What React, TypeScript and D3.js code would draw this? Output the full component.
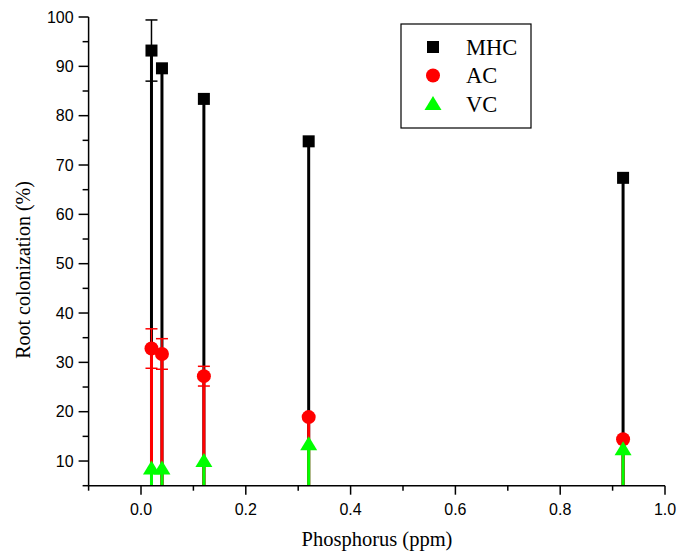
import React, { useRef, useEffect } from 'react';
import * as d3 from 'd3';

// Phosphorus levels (ppm)
const phosphorus = [0.02, 0.04, 0.12, 0.32, 0.92];
// Root colonization (%)
const mhc = [93.2, 89.6, 83.4, 74.8, 67.4];
const mhcErr = [6.2, 0.3, 0.3, 0.3, 0.3];
const ac = [32.8, 31.7, 27.2, 18.9, 14.4];
const acErr = [4.0, 3.1, 2.0, 0, 0];
const vc = [8.5, 8.5, 10.0, 13.4, 12.4];
const xTicks = [0, 0.2, 0.4, 0.6, 0.8, 1.0];
const yTicks = [10, 20, 30, 40, 50, 60, 70, 80, 90, 100];
const seriesNames = ['MHC', 'AC', 'VC'];
const seriesColors = ['#000000', '#ff0000', '#00ff00'];

const App = () => {
  const svgRef = useRef(null);

  useEffect(() => {
    const svg = d3.select(svgRef.current);
    svg.selectAll('*').remove();

    const width = 677;
    const height = 554;
    const x = d3.scaleLinear().domain([-0.1, 1.0]).range([88.6, 665]);
    const y = d3.scaleLinear().domain([5, 100]).range([485.7, 17]);

    svg.attr('width', width).attr('height', height);

    const g = svg.append('g');
    const yBase = y(5);

    // drop lines + error bars, one series after another
    const series = [
      { vals: mhc, err: mhcErr, color: seriesColors[0], shape: 'square' },
      { vals: ac, err: acErr, color: seriesColors[1], shape: 'circle' },
      { vals: vc, err: null, color: seriesColors[2], shape: 'triangle' },
    ];

    series.forEach(s => {
      phosphorus.forEach((p, i) => {
        g.append('line')
          .attr('x1', x(p)).attr('x2', x(p))
          .attr('y1', yBase).attr('y2', y(s.vals[i]))
          .attr('stroke', s.color)
          .attr('stroke-width', 3);
        if (s.err && s.err[i] > 0.5) {
          const top = y(s.vals[i] + s.err[i]);
          const bot = y(s.vals[i] - s.err[i]);
          g.append('line')
            .attr('x1', x(p)).attr('x2', x(p))
            .attr('y1', top).attr('y2', bot)
            .attr('stroke', s.color).attr('stroke-width', 1.5);
          [top, bot].forEach(cy => {
            g.append('line')
              .attr('x1', x(p) - 6).attr('x2', x(p) + 6)
              .attr('y1', cy).attr('y2', cy)
              .attr('stroke', s.color).attr('stroke-width', 1.5);
          });
        }
      });
    });

    const drawMarker = (sel, shape, color, cx, cy) => {
      if (shape === 'square') {
        sel.append('rect')
          .attr('x', cx - 6).attr('y', cy - 6)
          .attr('width', 12).attr('height', 12)
          .attr('fill', color);
      } else if (shape === 'circle') {
        sel.append('circle')
          .attr('cx', cx).attr('cy', cy).attr('r', 7)
          .attr('fill', color);
      } else {
        sel.append('path')
          .attr('d', `M${cx},${cy - 8}L${cx + 8.5},${cy + 6}L${cx - 8.5},${cy + 6}Z`)
          .attr('fill', color);
      }
    };

    series.forEach(s => {
      phosphorus.forEach((p, i) => {
        drawMarker(g, s.shape, s.color, x(p), y(s.vals[i]));
      });
    });

    // axes
    const xAxis = svg.append('g').attr('transform', `translate(0,${yBase})`);
    xAxis.append('line')
      .attr('x1', x(-0.1)).attr('x2', x(1.0))
      .attr('stroke', '#000').attr('stroke-width', 1.5);
    d3.range(-0.1, 1.05, 0.1).forEach(t => {
      const major = xTicks.some(v => Math.abs(v - t) < 1e-6);
      xAxis.append('line')
        .attr('x1', x(t)).attr('x2', x(t))
        .attr('y1', 0).attr('y2', major ? 9 : 5)
        .attr('stroke', '#000').attr('stroke-width', 1.5);
    });
    xTicks.forEach(t => {
      xAxis.append('text')
        .attr('x', x(t)).attr('y', 29)
        .attr('text-anchor', 'middle')
        .attr('font-family', 'Liberation Sans, Arial, sans-serif')
        .attr('font-size', 16)
        .text(d3.format('.1f')(t));
    });

    const yAxis = svg.append('g').attr('transform', `translate(${x(-0.1)},0)`);
    yAxis.append('line')
      .attr('y1', y(5)).attr('y2', y(100))
      .attr('stroke', '#000').attr('stroke-width', 1.5);
    d3.range(5, 101, 5).forEach(t => {
      const major = t % 10 === 0;
      yAxis.append('line')
        .attr('x1', 0).attr('x2', major ? -10 : -6)
        .attr('y1', y(t)).attr('y2', y(t))
        .attr('stroke', '#000').attr('stroke-width', 1.5);
    });
    yTicks.forEach(t => {
      yAxis.append('text')
        .attr('x', -15).attr('y', y(t))
        .attr('dy', '0.35em')
        .attr('text-anchor', 'end')
        .attr('font-family', 'Liberation Sans, Arial, sans-serif')
        .attr('font-size', 16)
        .text(t);
    });

    svg.append('text')
      .attr('x', 377).attr('y', 546)
      .attr('text-anchor', 'middle')
      .attr('font-family', 'Liberation Serif, Times New Roman, serif')
      .attr('font-size', 20.5)
      .text('Phosphorus (ppm)');
    svg.append('text')
      .attr('transform', `translate(30,270) rotate(-90)`)
      .attr('text-anchor', 'middle')
      .attr('font-family', 'Liberation Serif, Times New Roman, serif')
      .attr('font-size', 20)
      .text('Root colonization (%)');

    // legend
    const legend = svg.append('g');
    legend.append('rect')
      .attr('x', 401).attr('y', 24)
      .attr('width', 130).attr('height', 104)
      .attr('fill', 'none').attr('stroke', '#000').attr('stroke-width', 1.2);
    seriesNames.forEach((name, i) => {
      const ly = 47 + i * 28.5;
      drawMarker(legend, series[i].shape, seriesColors[i], 433, ly);
      legend.append('text')
        .attr('x', 466).attr('y', ly)
        .attr('dy', '0.35em')
        .attr('font-family', 'Liberation Serif, Times New Roman, serif')
        .attr('font-size', 22.5)
        .text(name);
    });
  }, []);

  return <svg ref={svgRef} style={{ position: 'absolute', left: 0, top: 0 }}></svg>;
};

export default App;
